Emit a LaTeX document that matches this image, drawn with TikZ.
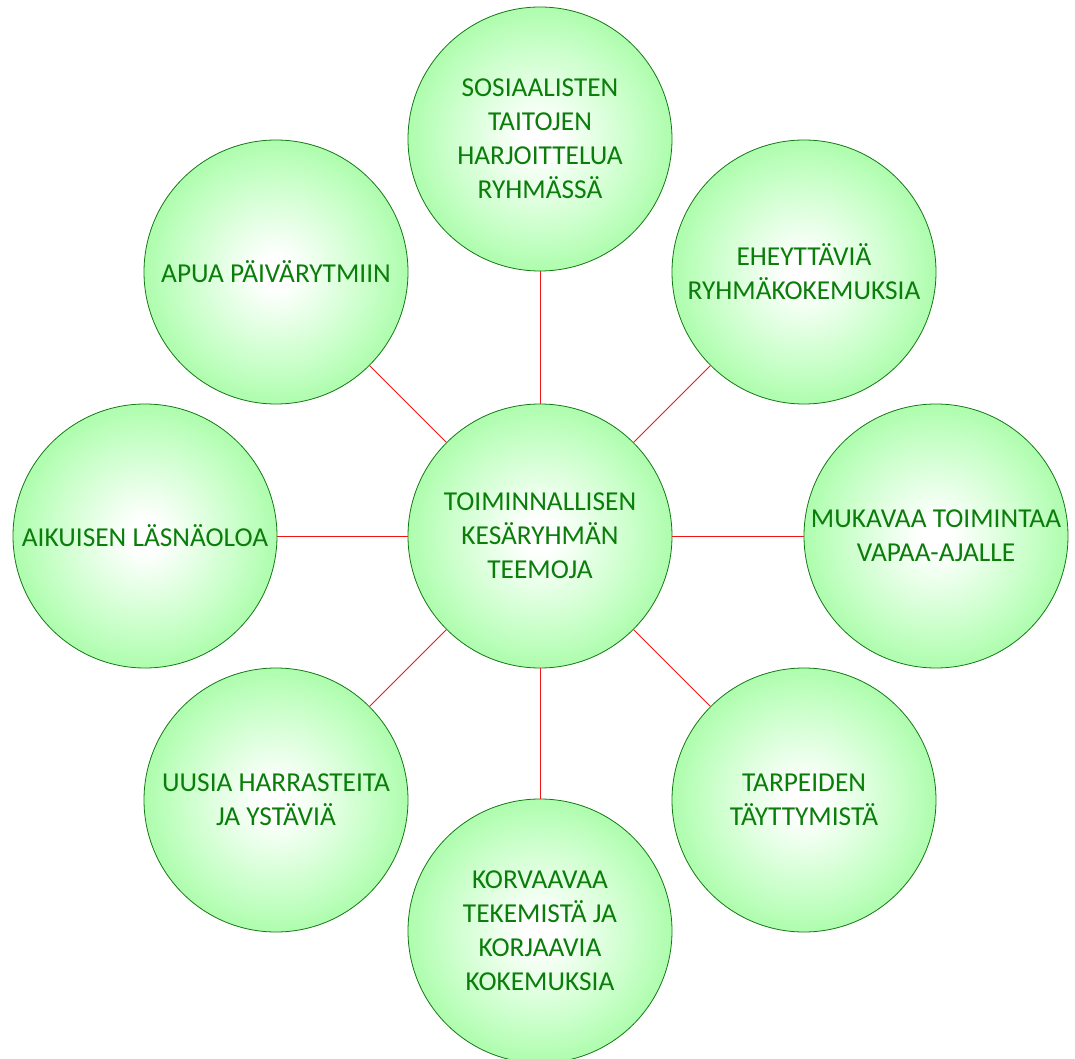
\documentclass[tikz,border=0pt]{standalone}
\usepackage{fontspec}
\setmainfont{Carlito}

\definecolor{themeedge}{RGB}{140,250,140}
\definecolor{thememid}{RGB}{200,255,200}
\definecolor{themeline}{RGB}{20,120,20}
\definecolor{themetext}{RGB}{10,125,10}
\pgfdeclareradialshading{themeball}{\pgfpoint{0bp}{0bp}}{color(0bp)=(white); color(3bp)=(white); color(18bp)=(thememid); color(34bp)=(themeedge); color(50bp)=(themeedge)}

\tikzset{every picture/.style={line width=0.75pt}}
\tikzset{
  theme/.style={circle, draw=themeline, line width=0.6pt, shading=themeball, minimum size=198pt, inner sep=0pt,
    align=center, text=themetext, font=\fontsize{20.5}{25.5}\selectfont},
  spoke/.style={draw={rgb,255:red,240;green,20;blue,20}, line width=0.6pt}
}

\begin{document}
\begin{tikzpicture}[x=0.75pt,y=0.75pt,yscale=-1,xscale=1]
\useasboundingbox (0,0) rectangle (1075,1059);

% Center
\node [theme] (hub) at (540,536) {TOIMINNALLISEN\\KESÄRYHMÄN\\TEEMOJA};

% Outer circles
\node [theme] (sosial) at (540,139) {SOSIAALISTEN\\TAITOJEN\\HARJOITTELUA\\RYHMÄSSÄ};
\node [theme] (eheytt) at (804,272) {EHEYTTÄVIÄ\\RYHMÄKOKEMUKSIA};
\node [theme] (mukava) at (936,536) {MUKAVAA TOIMINTAA\\VAPAA-AJALLE};
\node [theme] (tarpeet) at (804,800) {TARPEIDEN\\TÄYTTYMISTÄ};
\node [theme] (korvaa) at (540,931) {KORVAAVAA\\TEKEMISTÄ JA\\KORJAAVIA\\KOKEMUKSIA};
\node [theme] (harrast) at (276,800) {UUSIA HARRASTEITA\\JA YSTÄVIÄ};
\node [theme] (aikuinen) at (145,536) {AIKUISEN LÄSNÄOLOA};
\node [theme] (paiva) at (276,272) {APUA PÄIVÄRYTMIIN};

% Spokes
\foreach \n in {sosial,eheytt,mukava,tarpeet,korvaa,harrast,aikuinen,paiva}
  \draw [spoke] (hub) -- (\n);

\end{tikzpicture}
\end{document}
